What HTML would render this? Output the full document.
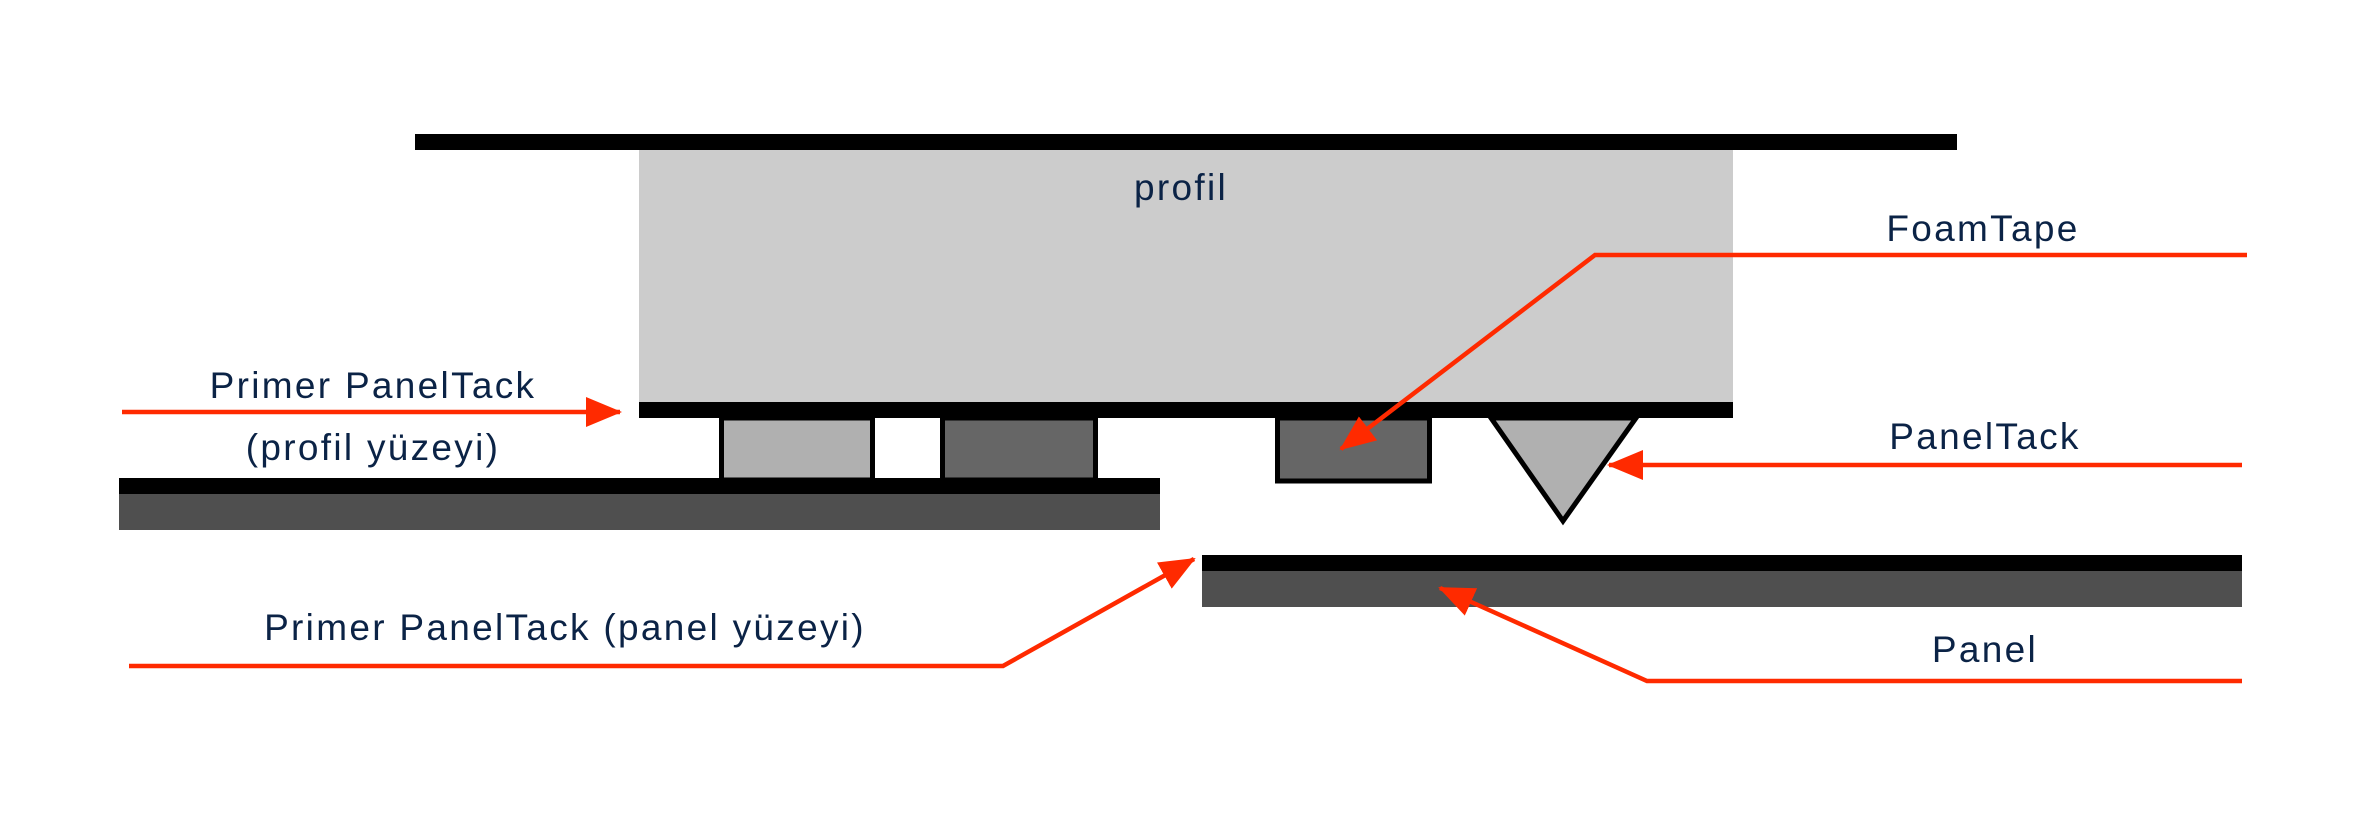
<!DOCTYPE html>
<html><head><meta charset="utf-8"><style>
html,body{margin:0;padding:0;background:#fff;}
svg{display:block;}
text{font-family:"Liberation Sans",sans-serif;font-size:37px;fill:#0b2346;letter-spacing:2.3px;}
</style></head><body>
<svg width="2363" height="827" viewBox="0 0 2363 827" xmlns="http://www.w3.org/2000/svg">
<defs>
<marker id="ah" markerUnits="userSpaceOnUse" markerWidth="36" markerHeight="30" refX="34" refY="15" orient="auto">
<polygon points="0,0 36,15 0,30" fill="#ff2a00"/>
</marker>
</defs>
<rect x="415" y="134" width="1542" height="16" fill="#000"/>
<rect x="639" y="150" width="1094" height="252" fill="#cccccc"/>
<rect x="639" y="402" width="1094" height="16" fill="#000"/>
<text x="1181" y="200" text-anchor="middle">profil</text>
<rect x="721.5" y="418" width="151" height="62" fill="#b0b0b0" stroke="#000" stroke-width="5"/>
<rect x="942.5" y="418" width="153" height="62" fill="#666" stroke="#000" stroke-width="5"/>
<rect x="119" y="478" width="1041" height="16" fill="#000"/>
<rect x="119" y="494" width="1041" height="36" fill="#4f4f4f"/>
<rect x="1277.5" y="418" width="152" height="63" fill="#666" stroke="#000" stroke-width="5"/>
<polygon points="1491,418 1636,418 1563,521" fill="#b0b0b0" stroke="#000" stroke-width="5" stroke-linejoin="miter"/>
<rect x="1202" y="555" width="1040" height="16" fill="#000"/>
<rect x="1202" y="571" width="1040" height="36" fill="#4f4f4f"/>
<g stroke="#ff2a00" stroke-width="4.5" fill="none">
<polyline points="122,412 620,412" marker-end="url(#ah)"/>
<polyline points="129,666 1003,666 1194,559" marker-end="url(#ah)"/>
<polyline points="2247,255 1595,255 1341,449" marker-end="url(#ah)"/>
<polyline points="2242,465 1609,465" marker-end="url(#ah)"/>
<polyline points="2242,681 1647,681 1440,588" marker-end="url(#ah)"/>
</g>
<text x="373" y="398" text-anchor="middle">Primer PanelTack</text>
<text x="373" y="460" text-anchor="middle">(profil yüzeyi)</text>
<text x="565" y="640" text-anchor="middle">Primer PanelTack (panel yüzeyi)</text>
<text x="1983" y="241" text-anchor="middle">FoamTape</text>
<text x="1985" y="449" text-anchor="middle">PanelTack</text>
<text x="1985" y="662" text-anchor="middle">Panel</text>
</svg>
</body></html>
